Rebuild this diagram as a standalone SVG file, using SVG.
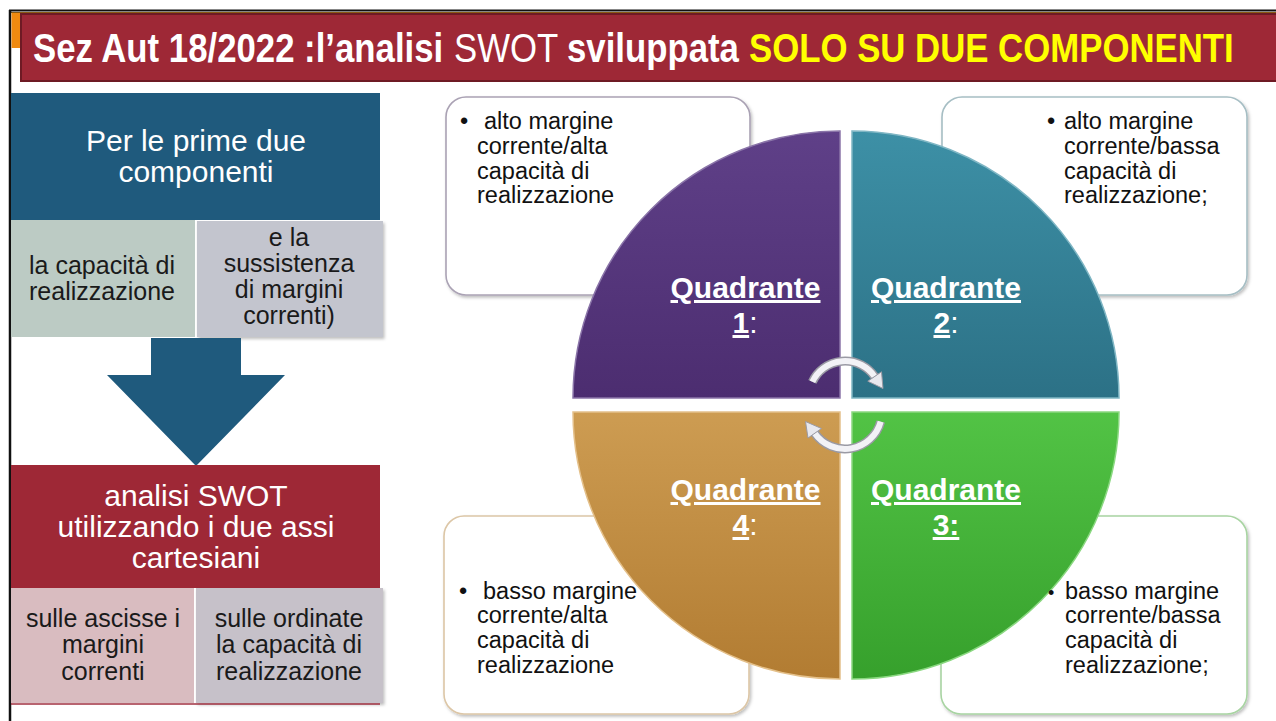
<svg xmlns="http://www.w3.org/2000/svg" width="1276" height="721" viewBox="0 0 1276 721">
<defs>
<style>
.t{font-family:"Liberation Sans",Arial,sans-serif}
.ti{font-size:40px;font-weight:bold;fill:#ffffff}
.tn{font-size:40px;font-weight:normal;fill:#ffffff}
.ty{font-size:40px;font-weight:bold;fill:#ffff00}
.w30{font-size:30px;fill:#ffffff;text-anchor:middle}
.k25{font-size:25px;fill:#1a1a1a;text-anchor:middle}
.bx{font-size:23.5px;fill:#111111}
.q{font-size:30px;font-weight:bold;fill:#ffffff;text-anchor:middle}
.card{fill:#ffffff;stroke-width:1.6}
</style>
<linearGradient id="gP" x1="0" y1="0" x2="0" y2="1"><stop offset="0" stop-color="#5f4088"/><stop offset="1" stop-color="#4c2d70"/></linearGradient>
<linearGradient id="gT" x1="0" y1="0" x2="0" y2="1"><stop offset="0" stop-color="#3d90a6"/><stop offset="1" stop-color="#2c7186"/></linearGradient>
<linearGradient id="gO" x1="0" y1="0" x2="0" y2="1"><stop offset="0" stop-color="#cd9c52"/><stop offset="1" stop-color="#b27c32"/></linearGradient>
<linearGradient id="gG" x1="0" y1="0" x2="0" y2="1"><stop offset="0" stop-color="#52c345"/><stop offset="1" stop-color="#36a02c"/></linearGradient>
<filter id="sh" x="-5%" y="-5%" width="112%" height="115%"><feDropShadow dx="1.5" dy="2" stdDeviation="1.5" flood-color="#000000" flood-opacity="0.25"/></filter>
</defs>
<rect width="1276" height="721" fill="#ffffff"/>

<g id="frame">
<line x1="9" y1="10.5" x2="1276" y2="10.5" stroke="#111111" stroke-width="2"/>
<line x1="9" y1="12.5" x2="1276" y2="12.5" stroke="#8a5a12" stroke-width="1"/>
<line x1="10" y1="10" x2="10" y2="721" stroke="#111111" stroke-width="2.5"/>
<rect x="11.5" y="13" width="10" height="35" fill="#f08a10"/>
</g>

<g id="title">
<rect x="21" y="14" width="1256" height="67" fill="#9e2836" stroke="#6e1a24" stroke-width="2"/>
<text class="t ti" transform="translate(33,62) scale(0.869,1)" x="0" y="0">Sez Aut 18/2022 :l’analisi</text>
<text class="t tn" transform="translate(454,62) scale(0.869,1)" x="0" y="0">SWOT</text>
<text class="t ti" transform="translate(567,62) scale(0.869,1)" x="0" y="0">sviluppata</text>
<text class="t ty" transform="translate(749,62) scale(0.869,1)" x="0" y="0">SOLO SU DUE COMPONENTI</text>
</g>

<g id="node-prime">
<rect x="11" y="93" width="369" height="127" fill="#1f5a7d"/>
<text class="t w30" x="196" y="151">Per le prime due</text>
<text class="t w30" x="196" y="182">componenti</text>
</g>
<g id="node-capacita">
<rect x="11" y="220" width="184" height="117" fill="#bccbc4"/>
<text class="t k25" x="102" y="274">la capacità di</text>
<text class="t k25" x="102" y="300">realizzazione</text>
</g>
<g id="node-sussistenza">
<rect x="197" y="221" width="186" height="116" fill="#c3c5ce" filter="url(#sh)"/>
<text class="t k25" x="289" y="246">e la</text>
<text class="t k25" x="289" y="272">sussistenza</text>
<text class="t k25" x="289" y="298">di margini</text>
<text class="t k25" x="289" y="324">correnti)</text>
</g>

<g id="connectors">
<polygon points="151,338 241,338 241,375 285,375 196,466 107,375 151,375" fill="#1f5a7d"/>
</g>

<g id="node-swot">
<rect x="11" y="465" width="369" height="123" fill="#9e2836"/>
<text class="t w30" x="196" y="506">analisi SWOT</text>
<text class="t w30" x="196" y="537">utilizzando i due assi</text>
<text class="t w30" x="196" y="568">cartesiani</text>
</g>
<g id="node-ascisse">
<rect x="11" y="588" width="183" height="115" fill="#d9bcc0"/>
<text class="t k25" x="103" y="627">sulle ascisse i</text>
<text class="t k25" x="103" y="653">margini</text>
<text class="t k25" x="103" y="680">correnti</text>
</g>
<g id="node-ordinate">
<rect x="196" y="588" width="187" height="115" fill="#c6c1c9" filter="url(#sh)"/>
<text class="t k25" x="289" y="627">sulle ordinate</text>
<text class="t k25" x="289" y="653">la capacità di</text>
<text class="t k25" x="289" y="680">realizzazione</text>
<line x1="11" y1="704" x2="380" y2="704" stroke="#a03040" stroke-width="1.5"/>
</g>

<g id="cards">
<rect class="card" x="446" y="97" width="304" height="198" rx="20" stroke="#aaa2b4" filter="url(#sh)"/>
<rect class="card" x="942" y="97" width="305" height="198" rx="20" stroke="#a6bec4" filter="url(#sh)"/>
<rect class="card" x="444" y="516" width="305" height="198" rx="20" stroke="#dcc6a6" filter="url(#sh)"/>
<rect class="card" x="941" y="516" width="306" height="198" rx="20" stroke="#a8d4a2" filter="url(#sh)"/>
</g>

<g id="quadrant-1">
<path d="M840,398 L573,398 A267,267 0 0,1 840,131 Z" fill="url(#gP)" stroke="#8a74a8" stroke-width="1.5"/>
<text class="t q" x="745.5" y="298" text-decoration="underline">Quadrante</text>
<text class="t q" x="745" y="333"><tspan text-decoration="underline">1</tspan><tspan style="font-weight:normal">:</tspan></text>
</g>
<g id="quadrant-2">
<path d="M852,398 L852,131 A267,267 0 0,1 1119,398 Z" fill="url(#gT)" stroke="#7fb6c4" stroke-width="1.5"/>
<text class="t q" x="946" y="298" text-decoration="underline">Quadrante</text>
<text class="t q" x="946" y="333"><tspan text-decoration="underline">2</tspan><tspan style="font-weight:normal">:</tspan></text>
</g>
<g id="quadrant-4">
<path d="M840,412 L840,679 A267,267 0 0,1 573,412 Z" fill="url(#gO)" stroke="#e4c08a" stroke-width="1.5"/>
<text class="t q" x="745.5" y="500" text-decoration="underline">Quadrante</text>
<text class="t q" x="745" y="535"><tspan text-decoration="underline">4</tspan><tspan style="font-weight:normal">:</tspan></text>
</g>
<g id="quadrant-3">
<path d="M852,412 L1119,412 A267,267 0 0,1 852,679 Z" fill="url(#gG)" stroke="#8ad880" stroke-width="1.5"/>
<text class="t q" x="946" y="500" text-decoration="underline">Quadrante</text>
<text class="t q" x="946" y="535" text-decoration="underline">3:</text>
</g>

<g id="cycle-arrows">
<path d="M812.4,381.8 A36,36 0 0,1 874.5,376.4" fill="none" stroke="#9a9aa4" stroke-width="9"/>
<path d="M812.4,381.8 A36,36 0 0,1 874.5,376.4" fill="none" stroke="#f2f2f6" stroke-width="6"/>
<polygon points="881.5,371.8 867.8,381.2 883,388.5" fill="#e8e8ee" stroke="#9a9aa4" stroke-width="1"/>
<path d="M880.7,421.6 A37,37 0 0,1 814.7,433.2" fill="none" stroke="#9a9aa4" stroke-width="9"/>
<path d="M880.7,421.6 A37,37 0 0,1 814.7,433.2" fill="none" stroke="#f2f2f6" stroke-width="6"/>
<polygon points="821.5,428.5 808,438 805.5,421.5" fill="#e8e8ee" stroke="#9a9aa4" stroke-width="1"/>
</g>

<g id="text-q1">
<text class="t bx" x="460" y="129">•</text>
<text class="t bx" x="484" y="129">alto margine</text>
<text class="t bx" x="477" y="154">corrente/alta</text>
<text class="t bx" x="477" y="179">capacità di</text>
<text class="t bx" x="477" y="203">realizzazione</text>
</g>
<g id="text-q2">
<text class="t bx" x="1047" y="129">•</text>
<text class="t bx" x="1064" y="129">alto margine</text>
<text class="t bx" x="1064" y="154">corrente/bassa</text>
<text class="t bx" x="1064" y="179">capacità di</text>
<text class="t bx" x="1064" y="203">realizzazione;</text>
</g>
<g id="text-q4">
<text class="t bx" x="459" y="599">•</text>
<text class="t bx" x="483" y="599">basso margine</text>
<text class="t bx" x="477" y="623">corrente/alta</text>
<text class="t bx" x="477" y="648">capacità di</text>
<text class="t bx" x="477" y="673">realizzazione</text>
</g>
<g id="text-q3">
<text class="t bx" x="1048" y="599" style="font-size:18px">•</text>
<text class="t bx" x="1065" y="599">basso margine</text>
<text class="t bx" x="1065" y="623">corrente/bassa</text>
<text class="t bx" x="1065" y="648">capacità di</text>
<text class="t bx" x="1065" y="673">realizzazione;</text>
</g>
</svg>
